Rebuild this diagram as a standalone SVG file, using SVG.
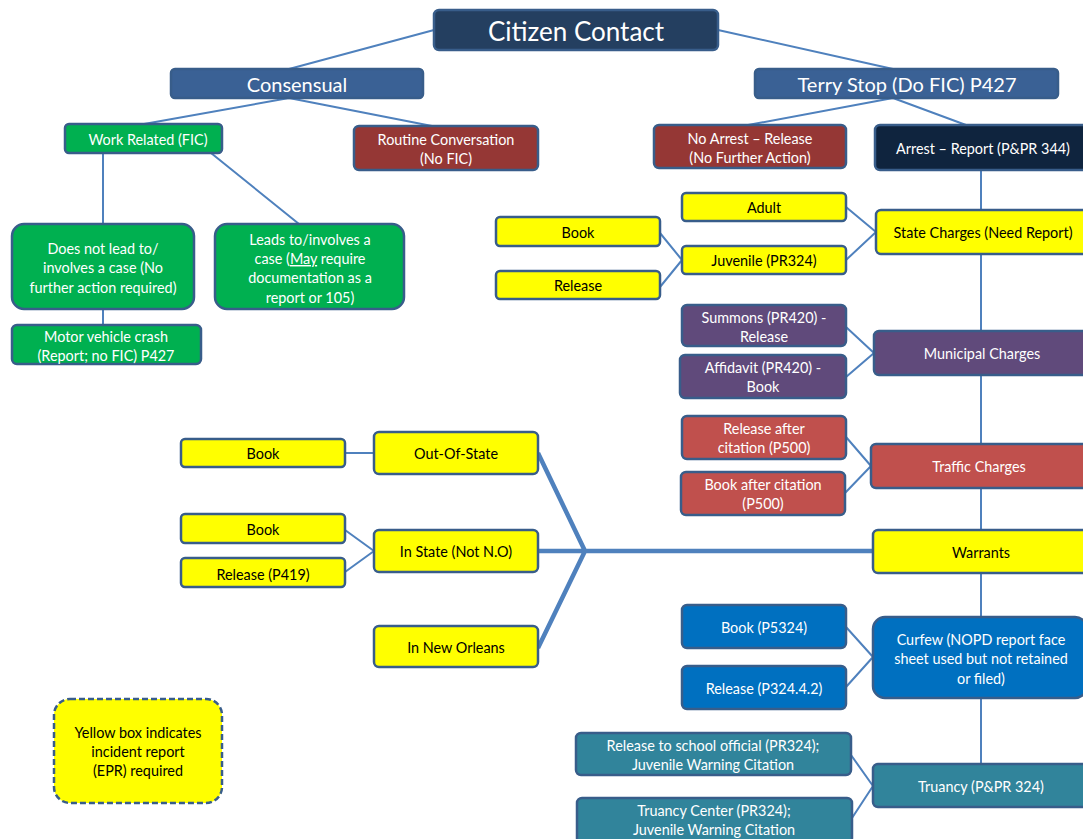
<svg xmlns="http://www.w3.org/2000/svg" width="1083" height="839" viewBox="0 0 1083 839">
<style>
.b{stroke:#385D8A;stroke-width:2.5}
.t{font-family:Lato,"Open Sans",sans-serif;font-size:14.4px;text-anchor:middle;fill:#fff}
.h1{font-size:26px}
.h2{font-size:20px}
.k{fill:#000}
.y{fill:#FFFF00}
.g{fill:#00B050}
.r{fill:#953735}
.p{fill:#604A7B}
.tr{fill:#C0504D}
.bl{fill:#0070C0}
.tl{fill:#31849B}
.c{stroke:#4F81BD;stroke-width:2;fill:none}
.ct{stroke:#4F81BD;stroke-width:4.5;fill:none}
</style>
<rect width="1083" height="839" fill="#fff"/>
<g id="connectors">
<path class="c" d="M434,30 L289,69 M718,30 L893,69 M289,98 L144,124 M289,98 L432,126 M103,153 V224 M211,153 L299,224 M103,309 V325"/>
<path class="c" d="M893,98 L748,125 M893,98 L966,125 M981,170 V764"/>
<path class="c" d="M846,207 L876,232 M846,260 L876,232 M660,233 L682,260 M660,287 L682,260"/>
<path class="c" d="M846,327 L874,353 M846,377 L874,353"/>
<path class="c" d="M846,437 L871,466 M845,493 L871,466"/>
<path class="c" d="M846,627 L873,657 M846,687 L873,657"/>
<path class="c" d="M851,755 L873,786 M852,818 L873,786"/>
<path class="c" d="M345,453 H374 M345,530 L374,551 M345,572 L374,551"/>
<path class="ct" d="M538,453 L585,551 L538,648 M538,551 H873"/>
</g>
<g id="citizen"><rect class="b" x="434" y="10" width="284" height="40" rx="5" fill="#243F60"/><text class="t h1" x="576" y="41">Citizen Contact</text></g>
<g id="consensual"><rect class="b" x="171" y="69" width="252" height="29" rx="4" fill="#3A6195" stroke-width="1.5"/><text class="t h2" x="297" y="92">Consensual</text></g>
<g id="terry"><rect class="b" x="755" y="69" width="303" height="29" rx="4" fill="#3A6195" stroke-width="1.5"/><text class="t h2" x="907" y="92">Terry Stop (Do FIC) P427</text></g>
<g id="work"><rect class="b g" x="65" y="124" width="157" height="29" rx="4"/><text class="t" x="148" y="145">Work Related (FIC)</text></g>
<g id="routine"><rect class="b r" x="354" y="126" width="184" height="44" rx="5"/><text class="t" x="446" y="145">Routine Conversation</text><text class="t" x="446" y="164">(No FIC)</text></g>
<g id="doesnot"><rect class="b g" x="12" y="224" width="182" height="85" rx="12"/><text class="t" x="103" y="254">Does not lead to/</text><text class="t" x="103" y="273">involves a case (No</text><text class="t" x="103" y="293">further action required)</text></g>
<g id="leads"><rect class="b g" x="215" y="224" width="189" height="85" rx="12"/><text class="t" x="310" y="245">Leads to/involves a</text><text class="t" x="310" y="264">case (<tspan text-decoration="underline">May</tspan> require</text><text class="t" x="310" y="283">documentation as a</text><text class="t" x="310" y="303">report or 105)</text></g>
<g id="motor"><rect class="b g" x="12" y="325" width="189" height="39" rx="5"/><text class="t" x="106" y="342">Motor vehicle crash</text><text class="t" x="106" y="361">(Report; no FIC) P427</text></g>
<g id="noarrest"><rect class="b r" x="654" y="125" width="192" height="43" rx="5"/><text class="t" x="750" y="144">No Arrest – Release</text><text class="t" x="750" y="163">(No Further Action)</text></g>
<g id="arrest"><rect class="b" x="875" y="125" width="212" height="45" rx="5" fill="#0F243E"/><text class="t" x="983" y="154">Arrest – Report (P&amp;PR 344)</text></g>
<g id="state"><rect class="b y" x="876" y="210" width="211" height="44" rx="5"/><text class="t k" x="983" y="238">State Charges (Need Report)</text></g>
<g id="adult"><rect class="b y" x="682" y="193" width="164" height="28" rx="4"/><text class="t k" x="764" y="213">Adult</text></g>
<g id="juvenile"><rect class="b y" x="682" y="246" width="164" height="28" rx="4"/><text class="t k" x="764" y="266">Juvenile (PR324)</text></g>
<g id="book1"><rect class="b y" x="496" y="217" width="164" height="29" rx="4"/><text class="t k" x="578" y="238">Book</text></g>
<g id="release1"><rect class="b y" x="496" y="271" width="164" height="28" rx="4"/><text class="t k" x="578" y="291">Release</text></g>
<g id="municipal"><rect class="b p" x="874" y="331" width="213" height="44" rx="5"/><text class="t" x="982" y="359">Municipal Charges</text></g>
<g id="summons"><rect class="b p" x="682" y="305" width="164" height="41" rx="5"/><text class="t" x="764" y="323">Summons (PR420) -</text><text class="t" x="764" y="342">Release</text></g>
<g id="affidavit"><rect class="b p" x="680" y="355" width="166" height="43" rx="5"/><text class="t" x="763" y="373">Affidavit (PR420) -</text><text class="t" x="763" y="392">Book</text></g>
<g id="traffic"><rect class="b tr" x="871" y="444" width="216" height="44" rx="5"/><text class="t" x="979" y="472">Traffic Charges</text></g>
<g id="relcit"><rect class="b tr" x="682" y="416" width="164" height="43" rx="5"/><text class="t" x="764" y="434">Release after</text><text class="t" x="764" y="453">citation (P500)</text></g>
<g id="bookcit"><rect class="b tr" x="681" y="472" width="164" height="43" rx="5"/><text class="t" x="763" y="490">Book after citation</text><text class="t" x="763" y="509">(P500)</text></g>
<g id="warrants"><rect class="b y" x="873" y="530" width="214" height="43" rx="5"/><text class="t k" x="981" y="558">Warrants</text></g>
<g id="outstate"><rect class="b y" x="374" y="432" width="164" height="42" rx="5"/><text class="t k" x="456" y="459">Out-Of-State</text></g>
<g id="instate"><rect class="b y" x="374" y="530" width="164" height="42" rx="5"/><text class="t k" x="456" y="557">In State (Not N.O)</text></g>
<g id="neworleans"><rect class="b y" x="374" y="626" width="164" height="41" rx="5"/><text class="t k" x="456" y="653">In New Orleans</text></g>
<g id="book2"><rect class="b y" x="181" y="439" width="164" height="28" rx="4"/><text class="t k" x="263" y="459">Book</text></g>
<g id="book3"><rect class="b y" x="181" y="514" width="164" height="29" rx="4"/><text class="t k" x="263" y="535">Book</text></g>
<g id="release419"><rect class="b y" x="181" y="558" width="164" height="29" rx="4"/><text class="t k" x="263" y="580">Release (P419)</text></g>
<g id="curfew"><rect class="b bl" x="873" y="617" width="214" height="81" rx="12"/><text class="t" x="981" y="645">Curfew (NOPD report face</text><text class="t" x="981" y="664">sheet used but not retained</text><text class="t" x="981" y="684">or filed)</text></g>
<g id="bookp5324"><rect class="b bl" x="682" y="605" width="164" height="43" rx="5"/><text class="t" x="764" y="633">Book (P5324)</text></g>
<g id="relp324"><rect class="b bl" x="682" y="666" width="164" height="43" rx="5"/><text class="t" x="764" y="694">Release (P324.4.2)</text></g>
<g id="truancy"><rect class="b tl" x="873" y="764" width="214" height="43" rx="5"/><text class="t" x="981" y="792">Truancy (P&amp;PR 324)</text></g>
<g id="relschool"><rect class="b tl" x="576" y="733" width="275" height="42" rx="5"/><text class="t" x="713" y="751">Release to school official (PR324);</text><text class="t" x="713" y="770">Juvenile Warning Citation</text></g>
<g id="truancycenter"><rect class="b tl" x="577" y="798" width="275" height="45" rx="5"/><text class="t" x="714" y="816">Truancy Center (PR324);</text><text class="t" x="714" y="835">Juvenile Warning Citation</text></g>
<g id="legend"><rect x="54" y="699" width="168" height="104" rx="16" class="y" stroke="#385D8A" stroke-width="2.5" stroke-dasharray="6,3"/><text class="t k" x="138" y="738">Yellow box indicates</text><text class="t k" x="138" y="757">incident report</text><text class="t k" x="138" y="776">(EPR) required</text></g>
</svg>
